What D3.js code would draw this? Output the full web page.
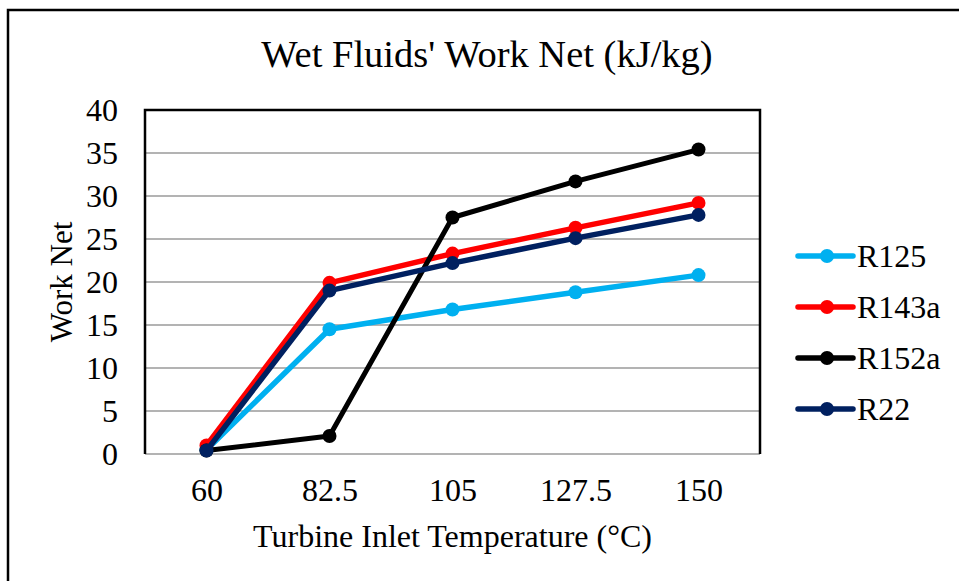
<!DOCTYPE html>
<html>
<head>
<meta charset="utf-8">
<script src="https://cdn.jsdelivr.net/npm/d3@7"></script>
<style>
  html, body { margin: 0; padding: 0; background: #fff; }
  svg { display: block; }
  text { font-family: "Liberation Serif", "Times New Roman", serif; fill: #000; }
</style>
</head>
<body>
<svg id="chart" width="959" height="581"></svg>
<script>
// Turbine inlet temperatures (°C)
const temperatures = ["60", "82.5", "105", "127.5", "150"];

// Net work (kJ/kg) for each wet working fluid
const r125  = [0.5, 14.5, 16.8, 18.8, 20.8];
const r143a = [1.0, 19.9, 23.3, 26.3, 29.2];
const r152a = [0.4, 2.1, 27.5, 31.7, 35.4];
const r22   = [0.4, 19.0, 22.2, 25.1, 27.8];

const yTicks = [0, 5, 10, 15, 20, 25, 30, 35, 40];

const seriesNames  = ["R125", "R143a", "R152a", "R22"];
const seriesColors = ["#00B0F0", "#FF0000", "#000000", "#002060"];

const series = [r125, r143a, r152a, r22].map((values, i) => ({
  name: seriesNames[i],
  color: seriesColors[i],
  values: values.map((v, j) => ({ t: temperatures[j], v }))
}));

const FONT = '"Liberation Serif", "Times New Roman", serif';
const svg = d3.select("#chart");

// Outer chart frame
svg.append("rect")
  .attr("x", 8).attr("y", 10)
  .attr("width", 970).attr("height", 600)
  .attr("fill", "#fff").attr("stroke", "#000").attr("stroke-width", 2.5);

const plot = { left: 145, right: 760, top: 110, bottom: 454 };

const x = d3.scalePoint()
  .domain(temperatures)
  .range([plot.left, plot.right])
  .padding(0.5);

const y = d3.scaleLinear()
  .domain([0, 40])
  .range([plot.bottom, plot.top]);

// Horizontal gridlines
svg.append("g")
  .selectAll("line")
  .data(yTicks)
  .join("line")
  .attr("x1", plot.left).attr("x2", plot.right)
  .attr("y1", d => y(d)).attr("y2", d => y(d))
  .attr("stroke", "#9a9a9a").attr("stroke-width", 1.6);

// Plot frame: top, left and right edges
svg.append("path")
  .attr("d", `M${plot.left},${plot.bottom} V${plot.top} H${plot.right} V${plot.bottom}`)
  .attr("fill", "none").attr("stroke", "#000").attr("stroke-width", 2.5);

// Y axis labels
const yAxis = d3.axisLeft(y).tickValues(yTicks).tickSize(0).tickPadding(27);
svg.append("g")
  .attr("transform", `translate(${plot.left},0)`)
  .call(yAxis)
  .call(g => g.select(".domain").remove())
  .call(g => g.selectAll("text")
    .attr("font-family", FONT)
    .attr("font-size", 32).attr("fill", "#000"));

// X axis labels
const xAxis = d3.axisBottom(x).tickSize(0).tickPadding(24);
svg.append("g")
  .attr("transform", `translate(0,${plot.bottom})`)
  .call(xAxis)
  .call(g => g.select(".domain").remove())
  .call(g => g.selectAll("text")
    .attr("font-family", FONT)
    .attr("font-size", 32).attr("fill", "#000"));

// Series lines and markers
const line = d3.line().x(d => x(d.t)).y(d => y(d.v));

const sg = svg.append("g")
  .selectAll("g")
  .data(series)
  .join("g");

sg.append("path")
  .attr("d", d => line(d.values))
  .attr("fill", "none")
  .attr("stroke", d => d.color)
  .attr("stroke-width", d => d.name === "R152a" ? 5 : 5.5)
  .attr("stroke-linejoin", "round");

sg.selectAll("circle")
  .data(d => d.values.map(p => ({ ...p, color: d.color })))
  .join("circle")
  .attr("cx", d => x(d.t))
  .attr("cy", d => y(d.v))
  .attr("r", 7)
  .attr("fill", d => d.color);

// Title
svg.append("text")
  .attr("x", 487).attr("y", 67)
  .attr("text-anchor", "middle")
  .attr("font-size", 38.5)
  .text("Wet Fluids' Work Net (kJ/kg)");

// Axis titles
svg.append("text")
  .attr("x", (plot.left + plot.right) / 2).attr("y", 547)
  .attr("text-anchor", "middle")
  .attr("font-size", 32)
  .text("Turbine Inlet Temperature (°C)");

svg.append("text")
  .attr("transform", `translate(72,${(plot.top + plot.bottom) / 2}) rotate(-90)`)
  .attr("text-anchor", "middle")
  .attr("font-size", 31)
  .text("Work Net");

// Legend
const legend = svg.append("g")
  .selectAll("g")
  .data(series)
  .join("g")
  .attr("transform", (d, i) => `translate(798,${256 + i * 51})`);

legend.append("line")
  .attr("x1", 0).attr("x2", 55)
  .attr("y1", 0).attr("y2", 0)
  .attr("stroke", d => d.color).attr("stroke-width", 5.5)
  .attr("stroke-linecap", "round");

legend.append("circle")
  .attr("cx", 29).attr("cy", 0).attr("r", 7)
  .attr("fill", d => d.color);

legend.append("text")
  .attr("x", 59).attr("y", 0)
  .attr("dy", "0.35em")
  .attr("font-size", 32)
  .text(d => d.name);
</script>
</body>
</html>
